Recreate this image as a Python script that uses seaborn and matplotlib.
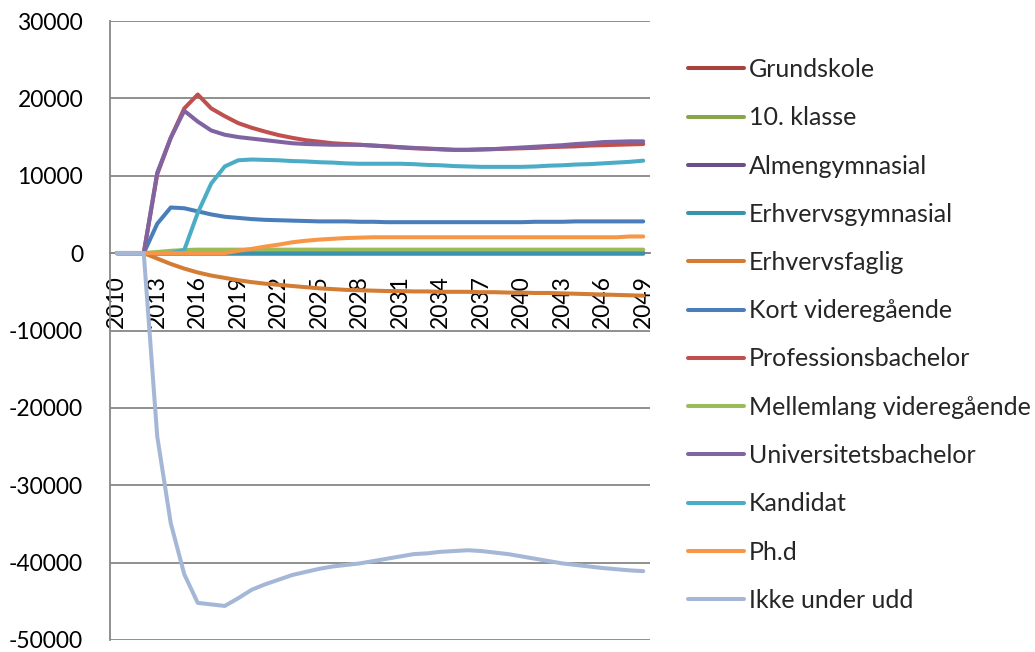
import matplotlib
matplotlib.use("Agg")
import matplotlib.pyplot as plt
import numpy as np
import pandas as pd
import seaborn as sns
from matplotlib.ticker import FixedLocator, FixedFormatter

# ---------------- data ----------------
years = list(range(2010, 2050))

series_names = [
    "Grundskole", "10. klasse", "Almengymnasial", "Erhvervsgymnasial",
    "Erhvervsfaglig", "Kort videregående", "Professionsbachelor",
    "Mellemlang videregående", "Universitetsbachelor", "Kandidat",
    "Ph.d", "Ikke under udd",
]

grundskole = [0, 0, 0, 0, 0, 0, 0, 0, 0, 0, 0, 0, 0, 0, 0, 0, 0, 0, 0, 0,
              0, 0, 0, 0, 0, 0, 0, 0, 0, 0, 0, 0, 0, 0, 0, 0, 0, 0, 0, 0]
klasse10 = [0, 0, 0, 0, 0, 0, 0, 0, 0, 0, 0, 0, 0, 0, 0, 0, 0, 0, 0, 0,
            0, 0, 0, 0, 0, 0, 0, 0, 0, 0, 0, 0, 0, 0, 0, 0, 0, 0, 0, 0]
almengym = [0, 0, 0, 0, 0, 0, 0, 0, 0, 0, 0, 0, 0, 0, 0, 0, 0, 0, 0, 0,
            0, 0, 0, 0, 0, 0, 0, 0, 0, 0, 0, 0, 0, 0, 0, 0, 0, 0, 0, 0]
erhvervsgym = [0, 0, 0, -80, -80, -80, -80, -80, -80, -80, -80, -80, -80, -80,
               -80, -80, -80, -80, -80, -80, -80, -80, -80, -80, -80, -80, -80,
               -80, -80, -80, -80, -80, -80, -80, -80, -80, -80, -80, -80, -80]
erhvervsfaglig = [0, 0, 0, -700, -1400, -2000, -2500, -2900, -3200, -3500,
                  -3750, -3950, -4100, -4250, -4400, -4550, -4650, -4750, -4800,
                  -4850, -4900, -4900, -4950, -4950, -5000, -5000, -5000, -5050,
                  -5050, -5100, -5100, -5150, -5150, -5200, -5250, -5300, -5350,
                  -5400, -5450, -5500]
kort_vid = [0, 0, 0, 3800, 5900, 5800, 5400, 5000, 4700, 4550, 4400, 4300, 4250,
            4200, 4150, 4100, 4100, 4100, 4050, 4050, 4000, 4000, 4000, 4000,
            4000, 4000, 4000, 4000, 4000, 4000, 4000, 4050, 4050, 4050, 4100,
            4100, 4100, 4100, 4100, 4100]
prof_bach = [0, 0, 0, 10200, 14900, 18700, 20500, 18700, 17700, 16800, 16200,
             15700, 15250, 14900, 14600, 14400, 14200, 14100, 14000, 13900,
             13800, 13650, 13550, 13500, 13400, 13350, 13350, 13400, 13450,
             13500, 13550, 13600, 13700, 13750, 13800, 13900, 13950, 14000,
             14050, 14100]
mellemlang = [0, 0, 0, 150, 300, 400, 450, 450, 450, 450, 450, 450, 450, 450,
              450, 450, 450, 450, 450, 450, 450, 450, 450, 450, 450, 450, 450,
              450, 450, 450, 450, 450, 450, 450, 450, 450, 450, 450, 450, 450]
univ_bach = [0, 0, 0, 10400, 14900, 18400, 17000, 15850, 15300, 15000, 14800,
             14600, 14400, 14200, 14100, 14050, 14000, 14000, 14000, 13900,
             13800, 13700, 13600, 13500, 13450, 13350, 13350, 13400, 13450,
             13550, 13650, 13750, 13850, 13950, 14100, 14200, 14350, 14400,
             14450, 14450]
kandidat = [0, 0, 0, 0, 0, 400, 5200, 9000, 11200, 12000, 12100, 12050, 12000,
            11900, 11850, 11750, 11700, 11600, 11550, 11550, 11550, 11550,
            11500, 11400, 11350, 11250, 11200, 11150, 11150, 11150, 11150,
            11200, 11300, 11350, 11450, 11500, 11600, 11700, 11800, 11950]
phd = [0, 0, 0, 0, 0, 0, 0, 0, 0, 300, 550, 850, 1100, 1400, 1600, 1750, 1850,
       1950, 2000, 2050, 2050, 2050, 2050, 2050, 2050, 2050, 2050, 2050, 2050,
       2050, 2050, 2050, 2050, 2050, 2050, 2050, 2050, 2050, 2150, 2150]
ikke_udd = [0, 0, 0, -23700, -34900, -41500, -45200, -45400, -45600, -44600,
            -43500, -42800, -42200, -41600, -41200, -40800, -40500, -40300,
            -40100, -39800, -39500, -39200, -38900, -38800, -38600, -38500,
            -38400, -38500, -38700, -38900, -39200, -39500, -39800, -40100,
            -40300, -40500, -40700, -40850, -41000, -41100]

series_values = [grundskole, klasse10, almengym, erhvervsgym, erhvervsfaglig,
                 kort_vid, prof_bach, mellemlang, univ_bach, kandidat, phd,
                 ikke_udd]

series_colors = ["#A7423F", "#88A54A", "#6B4E8C", "#3A93AC", "#D37C33",
                 "#4A7EBB", "#C0504D", "#9BBB59", "#8064A2", "#4BACC6",
                 "#F79646", "#A5B7D7"]

y_ticks = [-50000, -40000, -30000, -20000, -10000, 0, 10000, 20000, 30000]
y_tick_labels = ["-50000", "-40000", "-30000", "-20000", "-10000", "0",
                 "10000", "20000", "30000"]
x_label_years = list(range(2010, 2050, 3))

# ---------------- long-form table ----------------
rows = []
for name, vals in zip(series_names, series_values):
    for i, (yr, v) in enumerate(zip(years, vals)):
        rows.append({"pos": i, "year": yr, "serie": name, "value": v})
df = pd.DataFrame(rows)

# ---------------- figure ----------------
sns.set_style("white")
plt.rcParams["font.family"] = ["Lato", "DejaVu Sans"]
FS = 16.5
LFS = 18
GREY = "#878787"

W, H = 1035, 652
fig = plt.figure(figsize=(W / 100, H / 100), dpi=100)
left, right, top, bottom = 110, 650, 21, 640
ax = fig.add_axes([left / W, (H - bottom) / H, (right - left) / W, (bottom - top) / H])

pal = dict(zip(series_names, series_colors))
sns.lineplot(data=df, x="pos", y="value", hue="serie", hue_order=series_names,
             palette=pal, linewidth=2.9, estimator=None, sort=False, ax=ax,
             legend=True)
for ln in ax.get_lines():
    ln.set_solid_capstyle("round")
    ln.set_solid_joinstyle("round")

ax.set_xlim(-0.5, len(years) - 0.5)
ax.set_ylim(-50000, 30000)
ax.set_xlabel("")
ax.set_ylabel("")

# y axis
ax.yaxis.set_major_locator(FixedLocator(y_ticks))
ax.yaxis.set_major_formatter(FixedFormatter(y_tick_labels))
ax.tick_params(axis="y", which="major", direction="out", length=5.8, width=1.3,
               color=GREY, pad=13.5, labelsize=FS, labelcolor="black")
ax.yaxis.grid(True, color=GREY, linewidth=1.3, zorder=0)
ax.set_axisbelow(True)

# x axis (crossing at zero)
x_label_pos = [years.index(y) for y in x_label_years]
ax.xaxis.set_major_locator(FixedLocator(x_label_pos))
ax.xaxis.set_major_formatter(FixedFormatter([str(y) for y in x_label_years]))
ax.xaxis.set_minor_locator(FixedLocator(np.arange(-0.5, len(years), 1.0)))
ax.tick_params(axis="x", which="major", length=0, pad=16, labelsize=FS,
               labelrotation=90, labelcolor="black")
ax.tick_params(axis="x", which="minor", direction="out", length=3.6, width=1.3,
               color=GREY)

for s in ["top", "right"]:
    ax.spines[s].set_visible(False)
ax.spines["left"].set_color(GREY)
ax.spines["left"].set_linewidth(1.3)
ax.spines["bottom"].set_position(("data", 0))
ax.spines["bottom"].set_color(GREY)
ax.spines["bottom"].set_linewidth(1.3)
ax.spines["bottom"].set_zorder(1)

# legend
handles, labels = ax.get_legend_handles_labels()
ax.get_legend().remove()
leg = fig.legend(handles, labels, loc="upper left",
                 bbox_to_anchor=(688 / W, 1 - 58 / H), frameon=False,
                 fontsize=LFS, handlelength=2.25, handletextpad=0.18,
                 labelspacing=1.01, borderpad=0, borderaxespad=0)
for h in leg.get_lines():
    h.set_linewidth(2.9)
    h.set_solid_capstyle("round")

fig.savefig("out.png", dpi=100)
